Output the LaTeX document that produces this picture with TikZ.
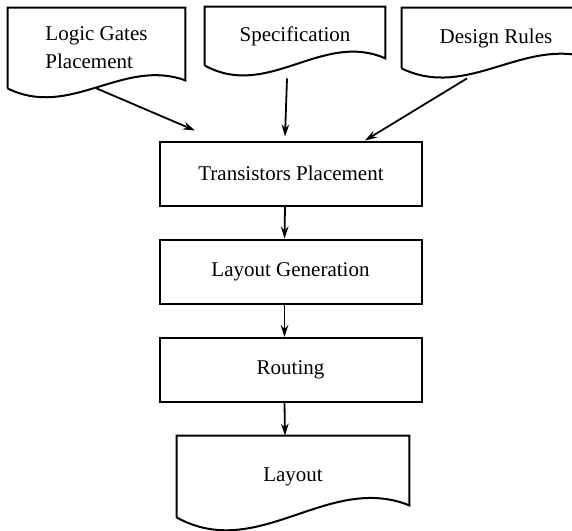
\documentclass[tikz,border=0pt]{standalone}
\usepackage{fontspec}
\setmainfont{Liberation Serif}
\usetikzlibrary{calc, arrows.meta}

\begin{document}
\begin{tikzpicture}[
                    x=0.5pt, y=-0.5pt,
                    docu/.style={rectangle, align=left, font=\fontsize{10.5}{14}\selectfont},
                    block/.style={rectangle, draw, line width=1pt, minimum width=131pt, minimum height=32pt, font=\fontsize{10.5}{13}\selectfont},
                    line/.style={draw, -{Stealth[length=6pt,width=3.8pt]}, line width=0.9pt}
                ]
                    \useasboundingbox (0,0) rectangle (572,530);
                    \clip (0,0) rectangle (572,530);

                    \node [docu, minimum width=88.5pt, minimum height=40pt] (logic) at (96.5,48) {Logic Gates\\Placement};
                    \node [docu, minimum width=90pt, minimum height=29pt] (spec) at (295,36) {Specification};
                    \node [docu, minimum width=94pt, minimum height=30pt] (rules) at (496,38) {Design Rules};

                    \node [block] (tp) at (291,173.5) {Transistors Placement};
                    \node [block] (lg) at (290.5,271.5) {Layout Generation};
                    \node [block] (rt) at (290.5,370) {Routing};
                    \node [docu, minimum width=116pt, minimum height=40.5pt] (layout) at (293,476.5) {Layout};

                    % document outlines
                    \foreach \n/\r/\c in {logic/8/31, spec/7/35, rules/10/32, layout/12/45}
                        \draw [line width=1pt] (\n.south west) -- (\n.north west) -- (\n.north east) -- ($(\n.south east)+(0,-\r)$)
                            .. controls ($(\n.south west)!0.65!(\n.south east)+(0,-\c)$) and ($(\n.south west)!0.35!(\n.south east)+(0,\c)$) .. (\n.south west);

                    % Edges to Transistors Placement
                    \path [line] (logic.south) -- ([xshift=-48pt,yshift=5pt]tp.north);
                    \path [line] ([xshift=-4pt,yshift=-6.5pt]spec.south) -- ([xshift=-3pt,yshift=2pt]tp.north);
                    \path [line] ([xshift=-14.5pt,yshift=-5pt]rules.south) -- ([xshift=37pt]tp.north);

                    % Edges down the flow
                    \path [line] ([xshift=-3pt]tp.south) -- ([xshift=-3pt]lg.north);
                    \path [line] ([xshift=-3pt]lg.south) -- ([xshift=-3pt]rt.north);
                    \path [line] ([xshift=-3pt]rt.south) -- ([xshift=-4pt]layout.north);
                \end{tikzpicture}
\end{document}
